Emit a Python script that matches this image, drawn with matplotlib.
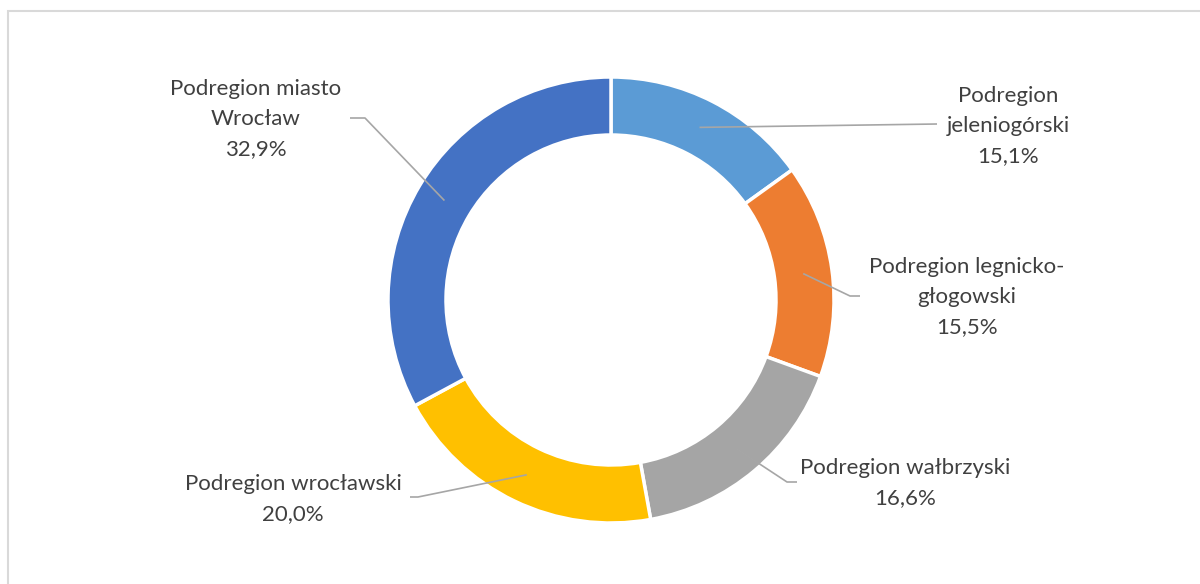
import numpy as np
import matplotlib
matplotlib.use("Agg")
import matplotlib.pyplot as plt
from matplotlib.patches import Rectangle

# dane: udział podregionów (%)
regions = ["Podregion\njeleniogórski", "Podregion legnicko-\ngłogowski", "Podregion wałbrzyski",
           "Podregion wrocławski", "Podregion miasto\nWrocław"]
shares = [15.1, 15.5, 16.6, 20.0, 32.9]
colors = ["#5B9BD5", "#ED7D31", "#A5A5A5", "#FFC000", "#4472C4"]

W, H = 1200, 584
fig = plt.figure(figsize=(W / 100, H / 100), dpi=100)
ax = fig.add_axes([0, 0, 1, 1])
ax.set_xlim(0, W)
ax.set_ylim(0, H)
ax.set_aspect("equal")
ax.axis("off")

# ramka wykresu (tylko lewa i górna krawędź widoczna)
fig.patches.append(Rectangle((8 / W, -0.1), 1.2, (H - 11) / H + 0.1, transform=fig.transFigure,
                             fill=False, edgecolor="#D9D9D9", linewidth=1.5))

cx, cy = 611, H - 300
r_out = 223
ring = 58
wedges, _ = ax.pie(shares, colors=colors, startangle=90, counterclock=False, center=(cx, cy),
                   radius=r_out, frame=True,
                   wedgeprops=dict(width=ring, edgecolor="white", linewidth=2.5))
ax.set_xlim(0, W)
ax.set_ylim(0, H)
ax.axis("off")

# pozycje etykiet i łamań linii odniesienia (piksele od góry)
label_pos = [(1008, 126), (967, 297), (905, 483), (293, 499), (256, 119)]
elbows = [[(937, 124)], [(850, 296), (860, 296)], [(787, 482), (797, 482)],
          [(418, 497), (410, 497)], [(365, 118), (350, 118)]]

total = sum(shares)
cum = 0
r_mid = r_out - ring / 2
for name, val, (lx, ly), elb in zip(regions, shares, label_pos, elbows):
    mid = cum + val / 2
    cum += val
    ang = np.deg2rad(90 - 360 * mid / total)
    ax0 = cx + r_mid * np.cos(ang)
    ay0 = cy + r_mid * np.sin(ang)
    xs = [ax0] + [p[0] for p in elb]
    ys = [ay0] + [H - p[1] for p in elb]
    ax.plot(xs, ys, color="#A6A6A6", linewidth=1.2, solid_capstyle="butt")
    txt = "{}\n{:.1f}%".format(name, val).replace(".", ",")
    ax.text(lx, H - ly, txt, ha="center", va="center", fontsize=16, family="Lato",
            color="#404040", linespacing=1.6)

fig.savefig("out.png", dpi=100)
